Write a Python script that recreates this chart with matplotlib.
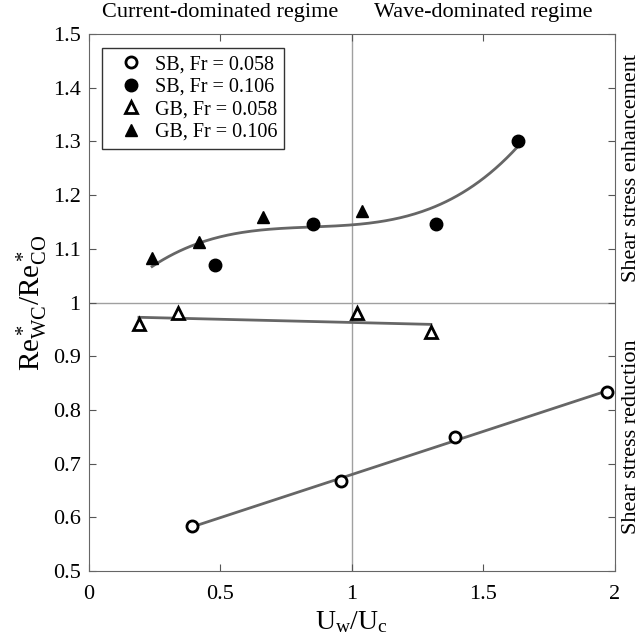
import matplotlib
matplotlib.use('Agg')
import matplotlib.pyplot as plt
import numpy as np

plt.rcParams['font.family'] = 'Liberation Serif'
plt.rcParams['mathtext.fontset'] = 'custom'
plt.rcParams['mathtext.rm'] = 'Liberation Serif'
plt.rcParams['mathtext.it'] = 'Liberation Serif:italic'

# data
sb_low_x = [0.39, 0.96, 1.39, 1.97]
sb_low_y = [0.583, 0.667, 0.750, 0.833]
sb_high_x = [0.48, 0.85, 1.32, 1.63]
sb_high_y = [1.070, 1.147, 1.147, 1.300]
gb_low_x = [0.19, 0.34, 1.02, 1.30]
gb_low_y = [0.960, 0.980, 0.980, 0.945]
gb_high_x = [0.24, 0.42, 0.66, 1.04]
gb_high_y = [1.083, 1.113, 1.160, 1.170]

labels = ['SB, Fr = 0.058', 'SB, Fr = 0.106', 'GB, Fr = 0.058', 'GB, Fr = 0.106']
xticks = [0, 0.5, 1, 1.5, 2]
xtick_labels = ['0', '0.5', '1', '1.5', '2']
yticks = [0.5, 0.6, 0.7, 0.8, 0.9, 1.0, 1.1, 1.2, 1.3, 1.4, 1.5]
ytick_labels = ['0.5', '0.6', '0.7', '0.8', '0.9', '1', '1.1', '1.2', '1.3', '1.4', '1.5']

fig = plt.figure(figsize=(6.43, 6.42), dpi=100)
ax = fig.add_axes([0.1384, 0.1106, 0.818, 0.8364])

ax.axvline(1, color='#a0a0a0', lw=1, zorder=1)
ax.axhline(1, color='#a0a0a0', lw=1, zorder=1)

fit_col = '#666666'
# trend lines
p = np.polyfit(sb_low_x, sb_low_y, 1)
xx = np.linspace(min(sb_low_x), max(sb_low_x), 50)
ax.plot(xx, np.polyval(p, xx), color=fit_col, lw=2, zorder=2)

p = np.polyfit(gb_low_x, gb_low_y, 1)
xx = np.linspace(min(gb_low_x), max(gb_low_x), 50)
ax.plot(xx, np.polyval(p, xx), color=fit_col, lw=2, zorder=2)

hx = np.array(sb_high_x + gb_high_x)
hy = np.array(sb_high_y + gb_high_y)
p = np.polyfit(hx, hy, 3)
xx = np.linspace(hx.min(), hx.max(), 200)
ax.plot(xx, np.polyval(p, xx), color=fit_col, lw=2, zorder=2)

ms = 8
ax.plot(sb_low_x, sb_low_y, 'o', mfc='white', mec='black', mew=2, ms=ms, ls='none', label=labels[0], zorder=3)
ax.plot(sb_high_x, sb_high_y, 'o', mfc='black', mec='black', ms=ms + 1, ls='none', label=labels[1], zorder=3)
ax.plot(gb_low_x, gb_low_y, '^', mfc='white', mec='black', mew=2, ms=ms, ls='none', label=labels[2], zorder=3)
ax.plot(gb_high_x, gb_high_y, '^', mfc='black', mec='black', ms=ms + 1, ls='none', label=labels[3], zorder=3)

ax.set_xlim(0, 2)
ax.set_ylim(0.5, 1.5)
ax.set_xticks(xticks)
ax.set_xticklabels(xtick_labels)
ax.set_yticks(yticks)
ax.set_yticklabels(ytick_labels)
ax.tick_params(direction='in', top=True, right=True, labelsize=16, length=5, color='#555555', pad=6)
ax.tick_params(axis='x', pad=10)
for s in ax.spines.values():
    s.set_color('#666666')

ax.set_xlabel(r'$\mathrm{U_w/U_c}$', fontsize=20, labelpad=4)
ax.set_ylabel(r'$\mathrm{Re^*_{WC}/Re^*_{CO}}$', fontsize=21, labelpad=2)

ax.text(0.5, 1.531, 'Current-dominated regime', ha='center', va='baseline', fontsize=16)
ax.text(1.5, 1.531, 'Wave-dominated regime', ha='center', va='baseline', fontsize=16)
ax.text(2.061, 1.25, 'Shear stress enhancement', rotation=90, ha='center', va='center', fontsize=16)
ax.text(2.061, 0.75, 'Shear stress reduction', rotation=90, ha='center', va='center', fontsize=16)

leg = ax.legend(loc='upper left', fontsize=14.5, frameon=True, fancybox=False, edgecolor='black',
                handletextpad=0.05, borderpad=0.35, labelspacing=0.17, handlelength=2.2,
                borderaxespad=0, bbox_to_anchor=(0.025, 0.974))
leg.get_frame().set_linewidth(1)

fig.savefig('out.png', dpi=100)
